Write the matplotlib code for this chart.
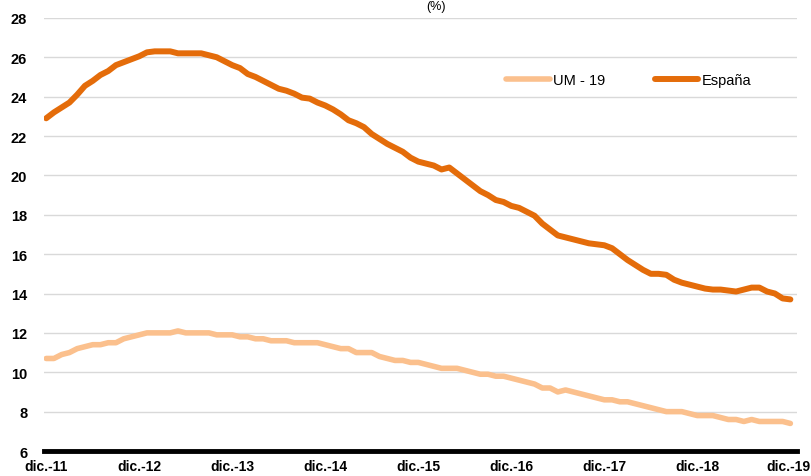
import numpy as np
import matplotlib
matplotlib.use("Agg")
from matplotlib import pyplot as plt
from matplotlib.transforms import ScaledTranslation

plt.rcParams['font.family'] = ['Liberation Sans', 'DejaVu Sans']

# monthly series, dic-11 .. dic-19
espana = [22.9, 23.2, 23.45, 23.7, 24.1, 24.55, 24.8, 25.1, 25.3, 25.6, 25.75, 25.9,
          26.05, 26.25, 26.3, 26.3, 26.3, 26.2, 26.2, 26.2, 26.2, 26.1, 26.0, 25.8,
          25.6, 25.45, 25.15, 25.0, 24.8, 24.6, 24.4, 24.3, 24.15, 23.95, 23.9, 23.7,
          23.55, 23.35, 23.1, 22.8, 22.65, 22.45, 22.1, 21.85, 21.6, 21.4, 21.2, 20.9,
          20.7, 20.6, 20.5, 20.3, 20.4, 20.1, 19.8, 19.5, 19.2, 19.0, 18.75, 18.65,
          18.45, 18.35, 18.15, 17.95, 17.55, 17.25, 16.95, 16.85, 16.75, 16.65, 16.55, 16.5,
          16.45, 16.3, 16.0, 15.7, 15.45, 15.2, 15.0, 15.0, 14.95, 14.7, 14.55, 14.45,
          14.35, 14.25, 14.2, 14.2, 14.15, 14.1, 14.2, 14.3, 14.3, 14.1, 14.0, 13.75,
          13.7]
um19 = [10.7, 10.7, 10.9, 11.0, 11.2, 11.3, 11.4, 11.4, 11.5, 11.5, 11.7, 11.8,
        11.9, 12.0, 12.0, 12.0, 12.0, 12.1, 12.0, 12.0, 12.0, 12.0, 11.9, 11.9,
        11.9, 11.8, 11.8, 11.7, 11.7, 11.6, 11.6, 11.6, 11.5, 11.5, 11.5, 11.5,
        11.4, 11.3, 11.2, 11.2, 11.0, 11.0, 11.0, 10.8, 10.7, 10.6, 10.6, 10.5,
        10.5, 10.4, 10.3, 10.2, 10.2, 10.2, 10.1, 10.0, 9.9, 9.9, 9.8, 9.8,
        9.7, 9.6, 9.5, 9.4, 9.2, 9.2, 9.0, 9.1, 9.0, 8.9, 8.8, 8.7,
        8.6, 8.6, 8.5, 8.5, 8.4, 8.3, 8.2, 8.1, 8.0, 8.0, 8.0, 7.9,
        7.8, 7.8, 7.8, 7.7, 7.6, 7.6, 7.5, 7.6, 7.5, 7.5, 7.5, 7.5,
        7.4]
tick_labels = ['dic.-11', 'dic.-12', 'dic.-13', 'dic.-14', 'dic.-15',
               'dic.-16', 'dic.-17', 'dic.-18', 'dic.-19']

x = np.arange(len(espana))

fig = plt.figure(figsize=(8.12, 4.77), dpi=100)
ax = fig.add_axes([0.054, 0.0524, 0.927, 0.908])

ax.plot(x, um19, color='#FBC08D', lw=4.0, label='UM - 19', solid_capstyle='round')
ax.plot(x, espana, color='#E46C0A', lw=4.3, label='España', solid_capstyle='round')

ax.set_ylim(6, 28)
ax.set_xlim(-0.3, 96.8)
ax.set_yticks(range(6, 29, 2))
ax.set_xticks(range(0, 97, 12))
ax.set_xticklabels(tick_labels)
ax.grid(axis='y', color='#D9D9D9', lw=1)
ax.set_axisbelow(True)

for s in ['left', 'right', 'top']:
    ax.spines[s].set_visible(False)
ax.spines['bottom'].set_linewidth(3.5)
ax.spines['bottom'].set_color('black')
ax.tick_params(length=0)
ax.tick_params(axis='y', pad=12)
ax.tick_params(axis='x', pad=6)
for lab in ax.get_yticklabels():
    lab.set_fontweight('bold')
    lab.set_fontsize(10.5)
for lab in ax.get_xticklabels():
    lab.set_fontweight('bold')
    lab.set_fontsize(10)
# last label sits against the right edge in the original
last = ax.get_xticklabels()[-1]
last.set_ha('right')
last.set_transform(last.get_transform() + ScaledTranslation(0.2, 0, fig.dpi_scale_trans))

fig.legend(loc='center', bbox_to_anchor=(0.774, 0.83), ncol=2, frameon=False,
           fontsize=10.5, handlelength=3, handletextpad=0.2, columnspacing=3.4)

fig.text(0.537, 0.998, '(%)', ha='center', va='top', fontsize=9)

fig.savefig('out.png', dpi=100)
